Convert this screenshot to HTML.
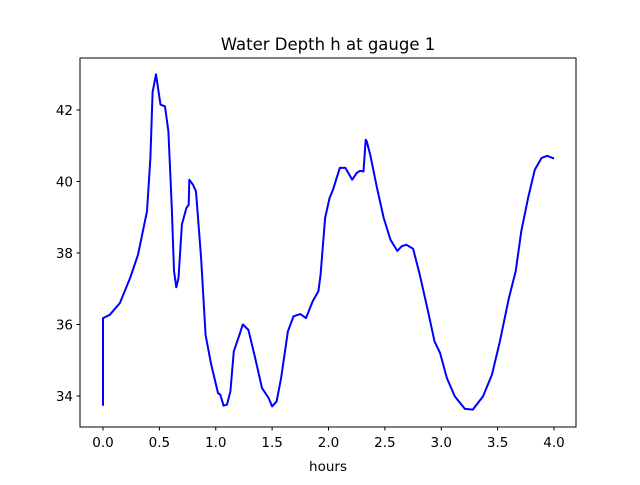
<!DOCTYPE html>
<html><head><meta charset="utf-8"><style>
body{margin:0;background:#fff;}
svg text{font-family:"DejaVu Sans","Liberation Sans",sans-serif;fill:#000;}
</style></head><body>
<svg id="chart" width="640" height="480" xmlns="http://www.w3.org/2000/svg">
<rect width="640" height="480" fill="#fff"/>
<text x="328" y="50" font-size="16.5" text-anchor="middle">Water Depth h at gauge 1</text>
<g id="xt"></g>
<g id="yt"></g>
<path id="line" fill="none" stroke="#0000ff" stroke-width="2" stroke-linejoin="round"/>
<rect x="80" y="58" width="496" height="369" fill="none" stroke="#000" stroke-width="1"/>
<text x="328" y="471" font-size="13.5" text-anchor="middle">hours</text>
</svg>
<script>
const hours=[0,0.0,0.06,0.15,0.24,0.31,0.39,0.42,0.44,0.47,0.51,0.55,0.58,0.61,0.63,0.65,0.67,0.70,0.74,0.76,0.765,0.80,0.825,0.87,0.91,0.96,1.02,1.04,1.07,1.10,1.13,1.16,1.21,1.24,1.29,1.35,1.41,1.47,1.50,1.54,1.58,1.64,1.69,1.75,1.80,1.86,1.91,1.93,1.97,2.01,2.04,2.10,2.15,2.21,2.25,2.28,2.31,2.33,2.34,2.37,2.43,2.49,2.55,2.61,2.65,2.69,2.75,2.81,2.89,2.94,2.99,3.05,3.12,3.21,3.28,3.37,3.45,3.52,3.60,3.66,3.71,3.77,3.83,3.89,3.94,4.00];
const depth=[33.73,36.18,36.27,36.6,37.3,37.95,39.17,40.66,42.5,43.0,42.15,42.1,41.4,39.26,37.5,37.04,37.3,38.8,39.26,39.35,40.05,39.9,39.72,37.86,35.7,34.88,34.08,34.04,33.73,33.76,34.13,35.25,35.71,36.0,35.85,35.06,34.22,33.94,33.71,33.85,34.5,35.81,36.23,36.29,36.18,36.65,36.93,37.4,38.98,39.54,39.77,40.38,40.38,40.05,40.24,40.30,40.28,41.17,41.12,40.75,39.82,38.98,38.37,38.06,38.19,38.23,38.12,37.39,36.27,35.53,35.2,34.50,33.99,33.64,33.62,33.99,34.60,35.53,36.74,37.49,38.61,39.54,40.33,40.66,40.72,40.64];
const xTicks=[0,0.5,1,1.5,2,2.5,3,3.5,4];
const xTickLabels=["0.0","0.5","1.0","1.5","2.0","2.5","3.0","3.5","4.0"];
const yTicks=[34,36,38,40,42];
const yTickLabels=["34","36","38","40","42"];
const X=v=>103+v*112.75;
const Y=v=>396-(v-34)*35.75;
const NS="http://www.w3.org/2000/svg";
const xt=document.getElementById('xt'),yt=document.getElementById('yt');
xTicks.forEach((v,i)=>{
  const l=document.createElementNS(NS,'line');
  l.setAttribute('x1',X(v));l.setAttribute('x2',X(v));l.setAttribute('y1',427);l.setAttribute('y2',430.5);l.setAttribute('stroke','#000');
  
  
  xt.appendChild(l);
  const t=document.createElementNS(NS,'text');
  t.setAttribute('x',X(v));t.setAttribute('y',447);t.setAttribute('font-size','13.5');t.setAttribute('text-anchor','middle');
  t.textContent=xTickLabels[i];
  
  
  xt.appendChild(t);
});
yTicks.forEach((v,i)=>{
  const l=document.createElementNS(NS,'line');
  l.setAttribute('x1',76.5);l.setAttribute('x2',80);l.setAttribute('y1',Y(v));l.setAttribute('y2',Y(v));l.setAttribute('stroke','#000');
  
  
  yt.appendChild(l);
  const t=document.createElementNS(NS,'text');
  t.setAttribute('x',73);t.setAttribute('y',Y(v)+5);t.setAttribute('font-size','13.5');t.setAttribute('text-anchor','end');
  t.textContent=yTickLabels[i];
  
  
  yt.appendChild(t);
});
document.getElementById('line').setAttribute('d',hours.map((h,i)=>(i?'L':'M')+X(h).toFixed(1)+','+Y(depth[i]).toFixed(1)).join(''));
</script>
</body></html>
